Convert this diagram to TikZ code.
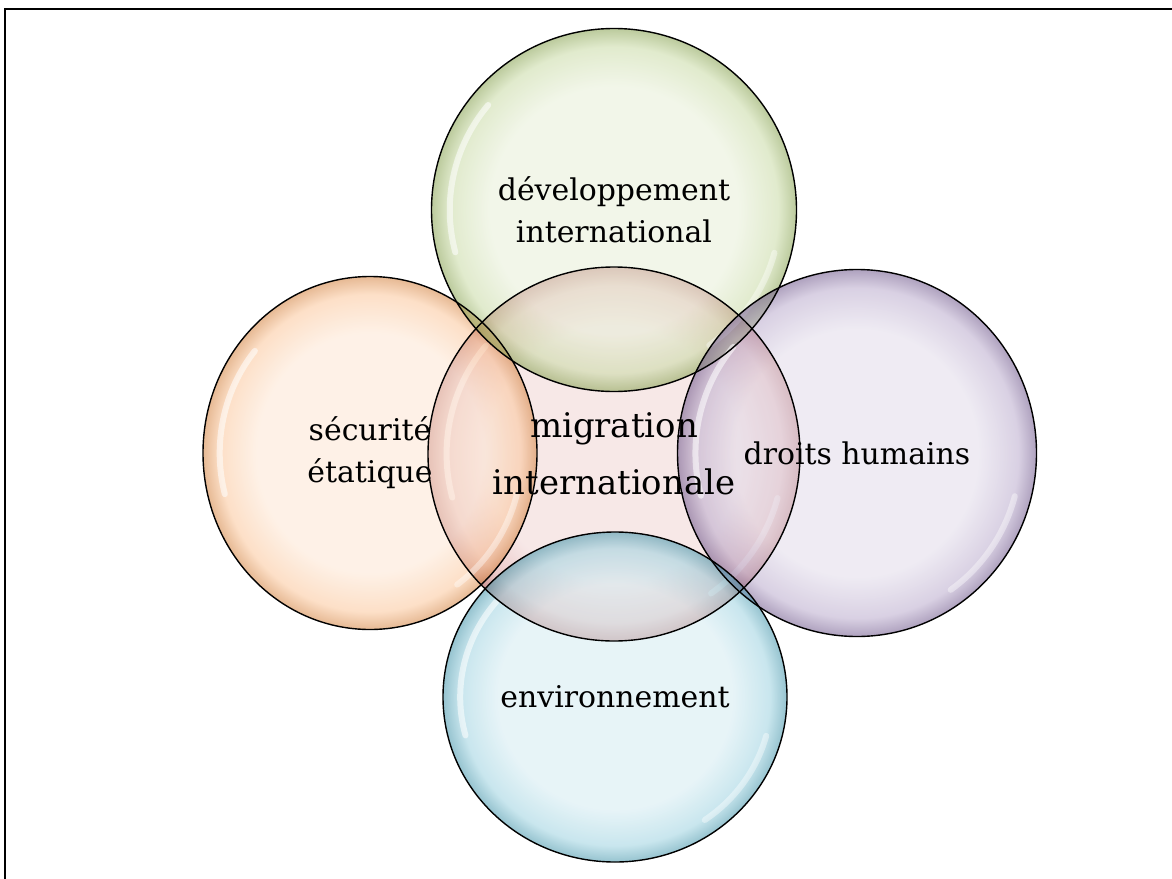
\documentclass[tikz,border=0pt]{standalone}
\usepackage{fontspec}
\setmainfont{DejaVu Serif}
\usepackage{tikz}
\usetikzlibrary{shapes.geometric, calc}
\definecolor{colorOr}{HTML}{F79646}
\definecolor{colorGr}{HTML}{9BBB59}
\definecolor{colorRe}{HTML}{C0504D}
\definecolor{colorPu}{HTML}{8064A2}
\definecolor{colorAq}{HTML}{4BACC6}

% glassy radial fill, 25bp is the rim of the shape
\newcommand{\bubbleshading}[2]{%
  \pgfdeclareradialshading{#1}{\pgfpoint{0bp}{0bp}}{%
    color(0bp)=(#2!24!white); color(17bp)=(#2!24!white);
    color(22.5bp)=(#2!55!white); color(25bp)=(#2!85!black); color(50bp)=(#2!85!black)}}
\bubbleshading{shadeOr}{colorOr}
\bubbleshading{shadeGr}{colorGr}
\bubbleshading{shadeRe}{colorRe}
\bubbleshading{shadePu}{colorPu}
\bubbleshading{shadeAq}{colorAq}

\tikzset{
  glint/.style={white, line width=6bp, opacity=0.55, line cap=round},
  bubble/.style={ellipse, shading=#1, fill opacity=0.55, outer sep=0pt,
    path picture={
      \draw[glint] let \p1=($(path picture bounding box.north east)-(path picture bounding box.center)$) in
        ([shift={(140:{0.9*\x1} and {0.9*\y1})}]path picture bounding box.center)
        arc[start angle=140, end angle=195, x radius=0.9*\x1, y radius=0.9*\y1];
      \draw[glint, opacity=0.4] let \p1=($(path picture bounding box.north east)-(path picture bounding box.center)$) in
        ([shift={(-55:{0.91*\x1} and {0.91*\y1})}]path picture bounding box.center)
        arc[start angle=-55, end angle=-15, x radius=0.91*\x1, y radius=0.91*\y1];
    }},
  rim/.style={ellipse, draw=black, line width=1.4bp, outer sep=0pt},
  caption/.style={align=center, inner sep=0pt, font=\fontsize{30}{42}\selectfont}
}

% name/shading/x/y/width/height
\def\bubblelist{migration/shadeRe/614/454/372/374, securite/shadeOr/370/453/334/353,
  developpement/shadeGr/614/210/365/363, droits/shadePu/857/453/359/367,
  environnement/shadeAq/615/697/344/330}

\begin{document}
\begin{tikzpicture}[x=1bp, y=-1bp]
    \useasboundingbox (0,0) rectangle (1172,879);
    \draw[line width=2.6bp] (5,879) -- (5,9) -- (1172,9);% frame, open at right and bottom

    \foreach \n/\s/\x/\y/\w/\h in \bubblelist
        \node[bubble=\s, minimum width=\w bp, minimum height=\h bp] (\n) at (\x,\y) {};
    \foreach \n/\s/\x/\y/\w/\h in \bubblelist
        \node[rim, minimum width=\w bp, minimum height=\h bp] at (\n) {};% outlines stay on top

    \node[caption, font=\fontsize{34}{57}\selectfont] (migrationtext) at (migration) {migration\\internationale};
    \node[caption] (securitetext) at (securite) {sécurité\\étatique};
    \node[caption] (developpementtext) at (developpement) {développement\\international};
    \node[caption] (droitstext) at (droits) {droits humains};
    \node[caption] (environnementtext) at (environnement) {environnement};
\end{tikzpicture}
\end{document}
